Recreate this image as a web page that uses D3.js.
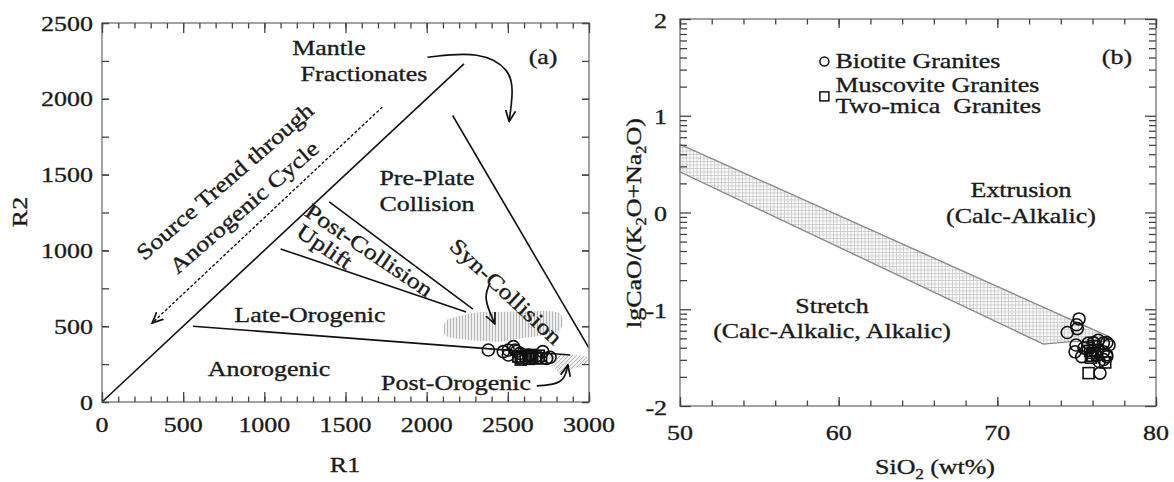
<!DOCTYPE html>
<html>
<head>
<meta charset="UTF-8" />
<style>
  body { margin: 0; background: #fff; }
  svg text {
    font-family: "Liberation Serif", "Times New Roman", serif;
    font-size: 22px;
    fill: #1a1a1a;
    stroke: #1a1a1a;
    stroke-width: 0.35px;
  }
</style>
</head>
<body>
<svg width="1174" height="482"></svg>
<script src="https://d3js.org/d3.v7.min.js"></script>
<script>
// ---------- panel (a): R1-R2 data ----------
let r1Major = [0, 500, 1000, 1500, 2000, 2500, 3000];
let r1Minor = d3.range(0, 3001, 100);
let r2Major = [0, 500, 1000, 1500, 2000, 2500];
let r2Minor = d3.range(0, 2501, 250);

let fieldLines = [
  [[0, 0], [2230, 2230]],
  [[2160, 1890], [3000, 355]],
  [[1400, 1320], [2285, 612]],
  [[1100, 1010], [2243, 594]],
  [[560, 500], [2885, 310]]
];
let sourceTrend = [[1727, 1946], [309, 521]];
let mantleArrow = [[2005, 2274], [2330, 2315], [2520, 2190], [2532, 2040], [2508, 1850]];
let synArrow = [[2390, 785], [2355, 700], [2385, 600], [2420, 515]];
let postArrow = [[2678, 106], [2790, 115], [2850, 150], [2870, 244]];

let synField = [[2103, 486], [2124, 541], [2205, 567], [2308, 591], [2534, 595], [2739, 600],
  [2821, 585], [2841, 529], [2821, 475], [2739, 442], [2575, 420], [2451, 398],
  [2308, 404], [2164, 420], [2113, 442]];
let postField = [[2760, 310], [2975, 303], [2994, 264], [2914, 224], [2821, 191], [2778, 244]];

let aBiotite = [[2380, 343], [2472, 332], [2503, 343], [2534, 365], [2544, 343], [2575, 321],
  [2626, 310], [2678, 303], [2715, 332], [2760, 295], [2739, 288], [2503, 310], [2555, 335]];
let aMuscovite = [[2565, 300], [2590, 290], [2610, 305], [2630, 285], [2650, 300],
  [2670, 290], [2690, 305], [2705, 288], [2580, 280], [2640, 310]];

let aLabels = [
  { t: "Mantle", x: 1398, y: 2289, r: 0 },
  { t: "Fractionates", x: 1614, y: 2117, r: 0 },
  { t: "(a)", x: 2717, y: 2230, r: 0 },
  { t: "Pre-Plate", x: 2002, y: 1431, r: 0 },
  { t: "Collision", x: 2002, y: 1260, r: 0 },
  { t: "Late-Orogenic", x: 1281, y: 528, r: 0 },
  { t: "Anorogenic", x: 1029, y: 172, r: 0 },
  { t: "Post-Orogenic", x: 2181, y: 79, r: 0 },
  { t: "Source Trend through", x: 787, y: 1418, r: -41 },
  { t: "Anorogenic Cycle", x: 905, y: 1247, r: -41 },
  { t: "Post-Collision", x: 1620, y: 960, r: 34 },
  { t: "Uplift", x: 1345, y: 985, r: 34 },
  { t: "Syn-Collision", x: 2458, y: 693, r: 43 }
];

// ---------- panel (b): SiO2 - lg data ----------
let siMajor = [50, 60, 70, 80];
let siMinor = d3.range(50, 81, 2);
let lgMajor = [-2, -1, 0, 1, 2];
let band = [[50, 0.705], [77.0, -1.28], [77.3, -1.33], [74.6, -1.335], [72.9, -1.36], [50, 0.42]];

let bBiotite = [[75.15, -1.10], [75.0, -1.16], [74.41, -1.24], [75.04, -1.20], [74.96, -1.37],
  [74.9, -1.44], [75.46, -1.40], [75.73, -1.35], [76.05, -1.345], [76.36, -1.32],
  [76.68, -1.35], [76.9, -1.345], [76.68, -1.44], [76.89, -1.47], [76.42, -1.54],
  [76.47, -1.66], [75.32, -1.49], [77.04, -1.37], [76.9, -1.49], [76.7, -1.52]];
let bMuscovite = [[75.7, -1.40], [75.85, -1.43], [76.0, -1.45], [76.15, -1.42], [76.3, -1.47],
  [75.9, -1.50], [76.1, -1.38], [76.8, -1.55], [75.75, -1.66], [76.0, -1.48]];

let bLabels = [
  { t: "Extrusion", x: 71.49, y: 0.16 },
  { t: "(Calc-Alkalic)", x: 71.49, y: -0.11 },
  { t: "Stretch", x: 59.58, y: -1.04 },
  { t: "(Calc-Alkalic, Alkalic)", x: 59.58, y: -1.30 },
  { t: "(b)", x: 77.54, y: 1.535 }
];
let legendItems = [
  { shape: "circle", lines: ["Biotite Granites"], y: 1.56 },
  { shape: "square", lines: ["Muscovite Granites", "Two-mica  Granites"], y: 1.20 }
];

// ---------- setup ----------
const SX = 1.18; // glyphs of the source font are wider than Times
let svg = d3.select("svg");
let defs = svg.append("defs");

function hatch(id, d, bg, size, col) {
  let p = defs.append("pattern").attr("id", id)
    .attr("patternUnits", "userSpaceOnUse").attr("width", size).attr("height", size);
  p.append("rect").attr("width", size).attr("height", size).attr("fill", bg);
  p.append("path").attr("d", d).attr("stroke", col).attr("stroke-width", 0.8).attr("fill", "none");
}
hatch("vert", "M0.5,0V3", "#efefef", 3, "#a8a8a8");
hatch("diag", "M0,4L4,0M-1,1L1,-1M3,5L5,3", "#f1f1f1", 4, "#aaaaaa");
hatch("cross", "M0.5,0V3.5M0,0.5H3.5", "#fcfcfc", 3.5, "#c6c6c6");

defs.append("marker").attr("id", "vhead")
  .attr("viewBox", "0 -6 12 12").attr("refX", 11).attr("refY", 0)
  .attr("markerWidth", 12).attr("markerHeight", 12)
  .attr("markerUnits", "userSpaceOnUse").attr("orient", "auto")
  .append("path").attr("d", "M0,-5L11,0L0,5")
  .attr("fill", "none").attr("stroke", "#111").attr("stroke-width", 1.7);

function text(g, x, y, t, rot, anchor) {
  return g.append("text")
    .attr("transform", `translate(${x},${y}) rotate(${rot || 0}) scale(${SX},1)`)
    .attr("text-anchor", anchor || "middle")
    .style("white-space", "pre")
    .text(t);
}

function frame(g, x, y) {
  g.append("rect")
    .attr("x", x.range()[0]).attr("y", y.range()[1])
    .attr("width", x.range()[1] - x.range()[0])
    .attr("height", y.range()[0] - y.range()[1])
    .attr("fill", "none").attr("stroke", "#8c8c8c").attr("stroke-width", 1.6);
}

function ticks(g, x, y, xMaj, xMin, yMaj, yMin, lens) {
  let grp = g.append("g").attr("color", "#444");
  let add = (axis, tr) => grp.append("g").attr("transform", tr)
    .call(axis.tickFormat("").tickSizeOuter(0))
    .call(s => s.select(".domain").remove())
    .call(s => s.selectAll("line").attr("stroke-width", 1.3));
  let b = "translate(0," + y.range()[0] + ")", t = "translate(0," + y.range()[1] + ")";
  let l = "translate(" + x.range()[0] + ",0)", r = "translate(" + x.range()[1] + ",0)";
  add(d3.axisBottom(x).tickValues(xMin).tickSizeInner(-lens[1]), b);
  add(d3.axisBottom(x).tickValues(xMaj).tickSizeInner(-lens[0]), b);
  add(d3.axisTop(x).tickValues(xMin).tickSizeInner(-lens[1]), t);
  add(d3.axisTop(x).tickValues(xMaj).tickSizeInner(-lens[0]), t);
  add(d3.axisLeft(y).tickValues(yMin).tickSizeInner(-lens[3]), l);
  add(d3.axisLeft(y).tickValues(yMaj).tickSizeInner(-lens[2]), l);
  add(d3.axisRight(y).tickValues(yMin).tickSizeInner(-lens[3]), r);
  add(d3.axisRight(y).tickValues(yMaj).tickSizeInner(-lens[2]), r);
}

// ---------- panel (a) ----------
let xA = d3.scaleLinear().domain([0, 3000]).range([102, 589]);
let yA = d3.scaleLinear().domain([0, 2500]).range([402, 23]);
let gA = svg.append("g");
let lineA = d3.line().x(d => xA(d[0])).y(d => yA(d[1]));

gA.append("path").datum(synField)
  .attr("d", lineA.curve(d3.curveCardinalClosed.tension(0.3)))
  .attr("fill", "url(#vert)");
gA.append("path").datum(postField)
  .attr("d", lineA.curve(d3.curveCardinalClosed.tension(0.3)))
  .attr("fill", "url(#diag)");

lineA.curve(d3.curveLinear);
gA.selectAll("path.field").data(fieldLines).join("path").attr("class", "field")
  .attr("d", lineA).attr("stroke", "#111").attr("stroke-width", 1.6).attr("fill", "none");

gA.append("path").datum(sourceTrend).attr("d", lineA)
  .attr("stroke", "#111").attr("stroke-width", 1.4).attr("stroke-dasharray", "3,2")
  .attr("fill", "none").attr("marker-end", "url(#vhead)");

let curveA = d3.line().x(d => xA(d[0])).y(d => yA(d[1])).curve(d3.curveBasis);
gA.selectAll("path.arrow").data([mantleArrow, synArrow, postArrow]).join("path")
  .attr("class", "arrow").attr("d", curveA)
  .attr("stroke", "#111").attr("stroke-width", 1.7).attr("fill", "none")
  .attr("marker-end", "url(#vhead)");

gA.selectAll("rect.mus").data(aMuscovite).join("rect").attr("class", "mus")
  .attr("x", d => xA(d[0]) - 5.5).attr("y", d => yA(d[1]) - 5.5)
  .attr("width", 11).attr("height", 11)
  .attr("fill", "none").attr("stroke", "#111").attr("stroke-width", 1.7);
gA.selectAll("circle.bio").data(aBiotite).join("circle").attr("class", "bio")
  .attr("cx", d => xA(d[0])).attr("cy", d => yA(d[1])).attr("r", 6)
  .attr("fill", "none").attr("stroke", "#111").attr("stroke-width", 1.6);

frame(gA, xA, yA);
ticks(gA, xA, yA, r1Major, r1Minor, r2Major, r2Minor, [10, 5.5, 7, 7]);

r1Major.forEach(v => text(gA, xA(v), 432, String(v)));
r2Major.forEach(v => text(gA, 93, yA(v) + 7.5, String(v), 0, "end"));
text(gA, 345, 472, "R1");
text(gA, 27, 212, "R2", -90);

aLabels.forEach(d => text(gA, xA(d.x), yA(d.y), d.t, d.r));

// ---------- panel (b) ----------
let xB = d3.scaleLinear().domain([50, 80]).range([680, 1156]);
let yB = d3.scaleLinear().domain([-2, 2]).range([406, 19]);
let gB = svg.append("g");
let lineB = d3.line().x(d => xB(d[0])).y(d => yB(d[1]));

// log-style minor ticks inside every unit of the lg axis
let lgMinor = [];
d3.range(-2, 2).forEach(n => d3.range(2, 10).forEach(k => lgMinor.push(n + Math.log10(k))));

gB.append("path").datum(band).attr("d", lineB.curve(d3.curveLinearClosed))
  .attr("fill", "url(#cross)").attr("stroke", "#8a8a8a").attr("stroke-width", 1.4);

gB.selectAll("rect.mus").data(bMuscovite).join("rect").attr("class", "mus")
  .attr("x", d => xB(d[0]) - 5.5).attr("y", d => yB(d[1]) - 5.5)
  .attr("width", 11).attr("height", 11)
  .attr("fill", "none").attr("stroke", "#111").attr("stroke-width", 1.6);
gB.selectAll("circle.bio").data(bBiotite).join("circle").attr("class", "bio")
  .attr("cx", d => xB(d[0])).attr("cy", d => yB(d[1])).attr("r", 6)
  .attr("fill", "none").attr("stroke", "#111").attr("stroke-width", 1.6);

frame(gB, xB, yB);
ticks(gB, xB, yB, siMajor, siMinor, lgMajor, lgMinor, [9, 5.5, 11, 7]);

siMajor.forEach(v => text(gB, xB(v), 440, String(v)));
lgMajor.forEach(v => text(gB, 667, yB(v) + 8.5, String(v), 0, "end"));

let yl = gB.append("text")
  .attr("transform", `translate(641,223) rotate(-90) scale(${SX},1)`)
  .attr("text-anchor", "middle");
yl.append("tspan").text("lgCaO/(K");
yl.append("tspan").text("2").style("font-size", "14px").attr("dy", 5);
yl.append("tspan").text("O+Na").attr("dy", -5);
yl.append("tspan").text("2").style("font-size", "14px").attr("dy", 5);
yl.append("tspan").text("O)").attr("dy", -5);

let xl = gB.append("text")
  .attr("transform", `translate(935,474) scale(${SX},1)`)
  .attr("text-anchor", "middle");
xl.append("tspan").text("SiO");
xl.append("tspan").text("2").style("font-size", "14px").attr("dy", 5);
xl.append("tspan").text(" (wt%)").attr("dy", -5);

bLabels.forEach(d => text(gB, xB(d.x), yB(d.y), d.t));

legendItems.forEach(d => {
  let cx = xB(59.1), cy = yB(d.y);
  if (d.shape === "circle")
    gB.append("circle").attr("cx", cx).attr("cy", cy).attr("r", 4.5)
      .attr("fill", "none").attr("stroke", "#111").attr("stroke-width", 1.5);
  else
    gB.append("rect").attr("x", cx - 4.5).attr("y", cy - 4.5).attr("width", 9).attr("height", 9)
      .attr("fill", "none").attr("stroke", "#111").attr("stroke-width", 1.5);
  if (d.lines.length === 1) text(gB, cx + 11, cy + 6.5, d.lines[0], 0, "start");
  else {
    text(gB, cx + 11, cy - 4.5, d.lines[0], 0, "start");
    text(gB, cx + 11, cy + 16.5, d.lines[1], 0, "start");
  }
});
</script>
</body>
</html>
